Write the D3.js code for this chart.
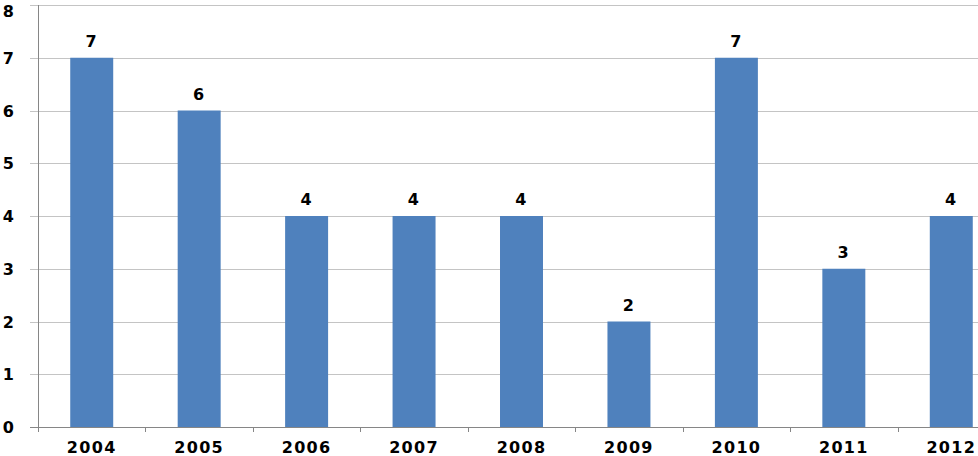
<!DOCTYPE html>
<html>
<head>
<meta charset="utf-8">
<script src="https://cdn.jsdelivr.net/npm/d3@7/dist/d3.min.js"></script>
<style>
  html, body { margin: 0; padding: 0; background: #fff; overflow: hidden; }
  text { font-family: "DejaVu Sans", Verdana, sans-serif; font-weight: bold; letter-spacing: 1.3px; }
</style>
</head>
<body>
<div id="chart"></div>
<script>
const years = ["2004", "2005", "2006", "2007", "2008", "2009", "2010", "2011", "2012"];
const counts = [7, 6, 4, 4, 4, 2, 7, 3, 4];
const yTicks = [0, 1, 2, 3, 4, 5, 6, 7, 8];

const WIDTH = 978;
const HEIGHT = 456;
const BAR_COLOR = "#4F81BD";

// plot area runs past the right edge of the window, like the original crop
const x0 = 38, x1 = 1005, yTop = 5, yBottom = 427;

const svg = d3.select("#chart")
  .append("svg")
  .attr("width", WIDTH)
  .attr("height", HEIGHT);

const x = d3.scaleBand().domain(years).range([x0, x1]).paddingInner(0.6).paddingOuter(0.3);
const xTickScale = d3.scaleBand().domain(years).range([x0, x1]);
const y = d3.scaleLinear().domain([0, 8]).range([yBottom, yTop]);

// gridlines
svg.append("g")
  .selectAll("line")
  .data(yTicks.filter(d => d > 0))
  .enter()
  .append("line")
  .attr("x1", x0 - 8)
  .attr("x2", WIDTH)
  .attr("y1", d => Math.round(y(d)) + 0.5)
  .attr("y2", d => Math.round(y(d)) + 0.5)
  .attr("stroke", "#c4c4c4")
  .attr("stroke-width", 1);

// y tick labels (top one nudged down so it stays inside the window)
svg.append("g")
  .selectAll("text")
  .data(yTicks)
  .enter()
  .append("text")
  .attr("x", 9)
  .attr("y", d => Math.max(y(d) + 6, 17))
  .attr("text-anchor", "middle")
  .attr("font-size", 16)
  .attr("fill", "#000")
  .text(d => d);

// bars
svg.append("g")
  .selectAll("rect")
  .data(years)
  .enter()
  .append("rect")
  .attr("x", d => x(d))
  .attr("y", (d, i) => y(counts[i]))
  .attr("width", x.bandwidth())
  .attr("height", (d, i) => y(0) - y(counts[i]))
  .attr("fill", BAR_COLOR);

// value labels
svg.append("g")
  .selectAll("text")
  .data(years)
  .enter()
  .append("text")
  .attr("x", d => x(d) + x.bandwidth() / 2)
  .attr("y", (d, i) => y(counts[i]) - 11)
  .attr("text-anchor", "middle")
  .attr("font-size", 16)
  .attr("fill", "#000")
  .text((d, i) => counts[i]);

// axes lines
const axisColor = "#868686";
svg.append("line")
  .attr("x1", x0 + 0.5).attr("x2", x0 + 0.5)
  .attr("y1", yTop).attr("y2", yBottom + 5)
  .attr("stroke", axisColor);
svg.append("line")
  .attr("x1", x0 - 8).attr("x2", WIDTH)
  .attr("y1", yBottom + 0.5).attr("y2", yBottom + 0.5)
  .attr("stroke", axisColor);

// category ticks on x axis
svg.append("g")
  .selectAll("line")
  .data(years.slice(1))
  .enter()
  .append("line")
  .attr("x1", d => Math.round(xTickScale(d)) + 0.5)
  .attr("x2", d => Math.round(xTickScale(d)) + 0.5)
  .attr("y1", yBottom)
  .attr("y2", yBottom + 5)
  .attr("stroke", axisColor);

// x labels
svg.append("g")
  .selectAll("text")
  .data(years)
  .enter()
  .append("text")
  .attr("x", d => x(d) + x.bandwidth() / 2)
  .attr("y", 453)
  .attr("text-anchor", "middle")
  .attr("font-size", 16)
  .attr("fill", "#000")
  .text(d => d);
</script>
</body>
</html>
